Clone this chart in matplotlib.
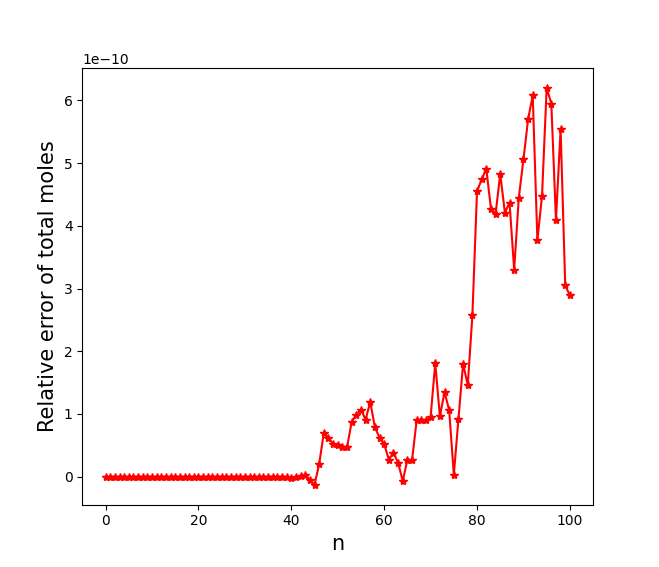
import matplotlib
matplotlib.use("Agg")
import matplotlib.pyplot as plt
import numpy as np

n = np.arange(101)
vals_41_100 = [0.0, 0.01, 0.03, -0.05, -0.13, 0.2, 0.70, 0.62, 0.52, 0.5, 0.48, 0.47,
               0.87, 0.99, 1.07, 0.91, 1.19, 0.79, 0.62, 0.52, 0.27, 0.38, 0.22, -0.07,
               0.27, 0.26, 0.90, 0.91, 0.90, 0.95, 1.81, 0.96, 1.35, 1.06, 0.03, 0.92,
               1.80, 1.46, 2.57, 4.55, 4.74, 4.91, 4.27, 4.19, 4.83, 4.21, 4.37, 3.30,
               4.45, 5.06, 5.70, 6.08, 3.77, 4.48, 6.20, 5.95, 4.09, 5.54, 3.05, 2.89]
vals_0_40 = [0.0] * 40 + [-0.02]
rel_err = np.array(vals_0_40 + vals_41_100) * 1e-10

fig, ax = plt.subplots(figsize=(6.59, 5.67), dpi=100)
ax.plot(n, rel_err, color='red', marker='*')
ax.set_xlabel('n', fontsize=15)
ax.set_ylabel('Relative error of total moles', fontsize=15)
fig.savefig('out.png', dpi=100)
